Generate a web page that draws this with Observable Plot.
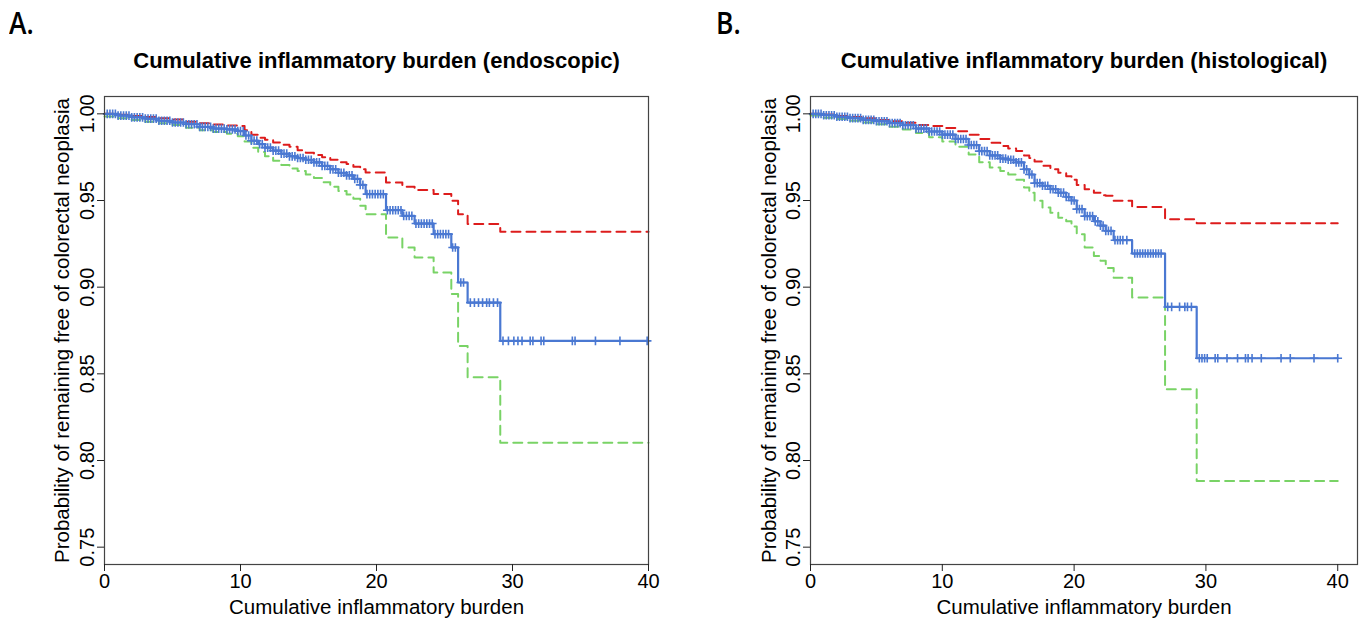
<!DOCTYPE html>
<html>
<head>
<meta charset="utf-8">
<script src="https://cdn.jsdelivr.net/npm/d3@7"></script>
<script src="https://cdn.jsdelivr.net/npm/@observablehq/plot@0.6"></script>
<style>
  html, body { margin: 0; padding: 0; background: #fff; }
  #wrap { position: relative; width: 1366px; height: 621px; overflow: hidden; background: #fff; }
  .panel { position: absolute; top: 0; }
  .letter { position: absolute; top: 2px; font-family: "Open Sans", "Liberation Sans", sans-serif; font-size: 30px; font-weight: 600; color: #000; transform: scaleX(0.88); transform-origin: left top; }
</style>
</head>
<body>
<div id="wrap">
  <div class="letter" style="left:9px">A.</div>
  <div class="letter" style="left:716px">B.</div>
  <div id="pA" class="panel" style="left:0px"></div>
  <div id="pB" class="panel" style="left:683px"></div>
</div>
<script>
// ---------- Panel A: endoscopic ----------
const titleA = "Cumulative inflammatory burden (endoscopic)";
const timesA = [0,1,2,3,4,5,6,7,8,9, 9.8,10.3,10.8,11.3,11.8,12.4,13.0,13.6,14.2,14.8, 15.4,16.0,16.6,17.2,17.8,18.3,18.8,19.2,20.7,21.9, 22.8,24.2,25.5,26.0,26.7,29.1];
const estA   = [1.0,.9990,.9980,.9972,.9960,.9950,.9940,.9925,.9915,.9910, .9900,.9875,.9845,.9825,.9805,.9788,.9770,.9755,.9745,.9735, .9720,.9700,.9680,.9660,.9645,.9625,.9590,.9537,.9444,.9411, .9367,.9306,.9229,.9027,.8911,.8690];
const upperA = [1.0,.9995,.9988,.9982,.9975,.9968,.9955,.9945,.9938,.9933, .9930,.9905,.9880,.9862,.9850,.9835,.9822,.9810,.9790,.9775, .9762,.9750,.9735,.9720,.9710,.9695,.9680,.9661,.9604,.9580, .9560,.9537,.9498,.9420,.9364,.9319];
const lowerA = [.9985,.9975,.9965,.9955,.9945,.9935,.9920,.9905,.9895,.9885, .9870,.9840,.9805,.9780,.9755,.9730,.9705,.9685,.9670,.9650, .9630,.9605,.9580,.9555,.9535,.9510,.9470,.9420,.9286,.9229, .9171,.9084,.8960,.8660,.8480,.8103];
const censorA = [0.2,0.4,0.6,0.8,1.0,1.2,1.4,1.6,1.8,2.0,2.2,2.4,2.6,2.8,3.0,3.2,3.4,3.6,3.8,4.0,4.2,4.4,4.6,4.8,5.0,5.2,5.4,5.6,5.8,6.0,6.2,6.4,6.6,6.8,7.0,7.2,7.4,7.6,7.8,8.0,8.2,8.4,8.6,8.8,9.0,9.2,9.4,9.6,9.8,10.0,10.2,10.4,10.6,10.8,11.0,11.2,11.4,11.6,11.8,12.0,12.2,12.4,12.6,12.8,13.0,13.2,13.4,13.6,13.8,14.0,14.2,14.4,14.6,14.8,15.0,15.2,15.4,15.6,15.8,16.0,16.2,16.4,16.6,16.8,17.0,17.2,17.4,17.6,17.8,18.0,18.2,18.4,18.6,18.8,19.0,19.3,19.5,19.7,19.9,20.1,20.3,20.5,20.8,21.0,21.2,21.4,21.6,21.8,22.0,22.2,22.4,22.6,22.9,23.1,23.3,23.5,23.7,23.9,24.1,24.3,24.5,24.7,24.9,25.1,25.3,25.6,25.8,26.2,26.4,26.9,27.2,27.5,27.8,28.1,28.3,28.6,28.9,29.3,29.7,30.1,30.4,30.7,31.3,31.5,32.1,32.3,34.4,34.6,36.1,37.9,39.9];
const endA = 40;
const xMaxA = 40;

// ---------- Panel B: histological ----------
const titleB = "Cumulative inflammatory burden (histological)";
const timesB = [0,1,2,3,4,5,6,7,8,9, 10,11,12,12.8,13.6,14.4,15.0,15.6,16.2,16.6, 17.0,17.6,18.2,18.8,19.4,19.8,20.2,20.8,21.5,22.0, 22.4,23.0,24.4,26.9,29.3];
const estB   = [1.0,.9992,.9983,.9975,.9965,.9957,.9946,.9934,.9915,.9898, .9880,.9855,.9820,.9785,.9760,.9742,.9735,.9720,.9680,.9650, .9600,.9585,.9565,.9545,.9520,.9500,.9450,.9410,.9380,.9355, .9325,.9271,.9194,.8886,.8590];
const upperB = [1.0,.9996,.9988,.9982,.9974,.9965,.9957,.9948,.9935,.9930, .9918,.9900,.9880,.9855,.9833,.9815,.9800,.9785,.9760,.9745, .9725,.9700,.9680,.9660,.9640,.9620,.9590,.9565,.9545,.9530, .9527,.9498,.9463,.9392,.9369];
const lowerB = [.9990,.9978,.9970,.9960,.9950,.9940,.9925,.9910,.9890,.9865, .9840,.9810,.9765,.9720,.9690,.9670,.9650,.9620,.9575,.9545, .9498,.9460,.9430,.9400,.9380,.9350,.9306,.9229,.9180,.9152, .9110,.9055,.8940,.8411,.7882];
const censorB = [0.2,0.4,0.6,0.8,1.0,1.2,1.4,1.6,1.8,2.0,2.2,2.4,2.6,2.8,3.0,3.2,3.4,3.6,3.8,4.0,4.2,4.4,4.6,4.8,5.0,5.2,5.4,5.6,5.8,6.0,6.2,6.4,6.6,6.8,7.0,7.2,7.4,7.6,7.8,8.0,8.2,8.4,8.6,8.8,9.0,9.2,9.4,9.6,9.8,10.0,10.2,10.4,10.6,10.8,11.0,11.2,11.4,11.6,11.8,12.0,12.2,12.4,12.6,12.8,13.0,13.2,13.4,13.6,13.8,14.0,14.2,14.4,14.6,14.8,15.0,15.2,15.4,15.6,15.8,16.0,16.2,16.4,16.6,16.8,17.0,17.2,17.4,17.6,17.8,18.0,18.2,18.4,18.6,18.8,19.0,19.2,19.4,19.6,19.8,20.0,20.2,20.4,20.6,20.8,21.0,21.2,21.4,21.6,21.8,22.0,22.2,22.4,22.6,22.8,23.1,23.3,23.5,23.7,24.0,24.6,24.8,25.0,25.2,25.4,25.6,25.8,26.0,26.2,26.4,26.6,27.1,27.4,28.0,28.4,28.6,28.9,29.5,29.7,29.9,30.1,30.7,30.9,31.6,32.4,33.0,33.2,33.5,34.2,35.7,36.4,38.2,40.0];
const endB = 40;
const xMaxB = 41.5;

// ---------- shared ----------
const xTicks = [0, 10, 20, 30, 40];
const yTicks = [0.75, 0.80, 0.85, 0.90, 0.95, 1.00];
const yDomain = [0.74, 1.01];
const xLabel = "Cumulative inflammatory burden";
const yLabel = "Probability of remaining free of colorectal neoplasia";

const BLUE = "#4a78d2", RED = "#dd1c1c", GREEN = "#79d366";
const FONT = "'Liberation Sans', Arial, Helvetica, sans-serif";

function rowsOf(times, est, up, lo, end) {
  const rows = times.map((t, i) => ({t, est: est[i], upper: up[i], lower: lo[i]}));
  const last = rows[rows.length - 1];
  rows.push({t: end, est: last.est, upper: last.upper, lower: last.lower});
  return rows;
}
function censorRows(times, est, cens) {
  return cens.map(c => ({t: c, est: est[Math.max(0, d3.bisectRight(times, c) - 1)]}));
}

function panel(opts) {
  const rows = rowsOf(opts.times, opts.est, opts.upper, opts.lower, opts.end);
  const cens = censorRows(opts.times, opts.est, opts.censor);
  return Plot.plot({
    width: 683, height: 621,
    marginLeft: opts.ml, marginRight: opts.mr, marginTop: 96, marginBottom: 57,
    x: {domain: [0, opts.xMax]},
    y: {domain: yDomain},
    style: {fontFamily: FONT, fontSize: "20px", color: "#000", background: "transparent", overflow: "visible"},
    marks: [
      Plot.line(rows, {x: "t", y: "upper", curve: "step-after", stroke: RED, strokeWidth: 2, strokeDasharray: "9,6"}),
      Plot.line(rows, {x: "t", y: "lower", curve: "step-after", stroke: GREEN, strokeWidth: 2, strokeDasharray: "9,6"}),
      Plot.line(rows, {x: "t", y: "est", curve: "step-after", stroke: BLUE, strokeWidth: 2.2}),
      Plot.dot(cens, {x: "t", y: "est", symbol: "plus", r: 2.9, stroke: BLUE, strokeWidth: 1.6}),
      Plot.frame({stroke: "#444", strokeWidth: 1.2}),
      Plot.axisX({ticks: xTicks, tickSize: 7, tickPadding: 2, label: null, fontSize: 20, stroke: "#222"}),
      Plot.axisY({ticks: yTicks, tickSize: 7, tickFormat: () => "", label: null, stroke: "#222"}),
      Plot.text(yTicks, {y: d => d, frameAnchor: "left", dx: -16.5, rotate: -90, text: d => d3.format(".2f")(d), fontSize: 20, lineAnchor: "middle", textAnchor: "middle", fill: "#000"}),
      Plot.text([xLabel], {frameAnchor: "bottom", dy: 43, text: d => d, fontSize: 20.5, lineAnchor: "middle", textAnchor: "middle", fill: "#000"}),
      Plot.text([yLabel], {frameAnchor: "left", dx: opts.ylx, rotate: -90, text: d => d, fontSize: 20.5, lineAnchor: "middle", textAnchor: "middle", fill: "#000"}),
      Plot.text([opts.title], {frameAnchor: "top", dy: -36, text: d => d, fontSize: 22, fontWeight: "bold", lineAnchor: "middle", textAnchor: "middle", fill: "#000"})
    ]
  });
}

document.getElementById("pA").append(panel({
  times: timesA, est: estA, upper: upperA, lower: lowerA, censor: censorA, end: endA, xMax: xMaxA,
  ml: 104, mr: 35, ylx: -42, title: titleA
}));
document.getElementById("pB").append(panel({
  times: timesB, est: estB, upper: upperB, lower: lowerB, censor: censorB, end: endB, xMax: xMaxB,
  ml: 127, mr: 9, ylx: -41, title: titleB
}));
</script>
</body>
</html>
